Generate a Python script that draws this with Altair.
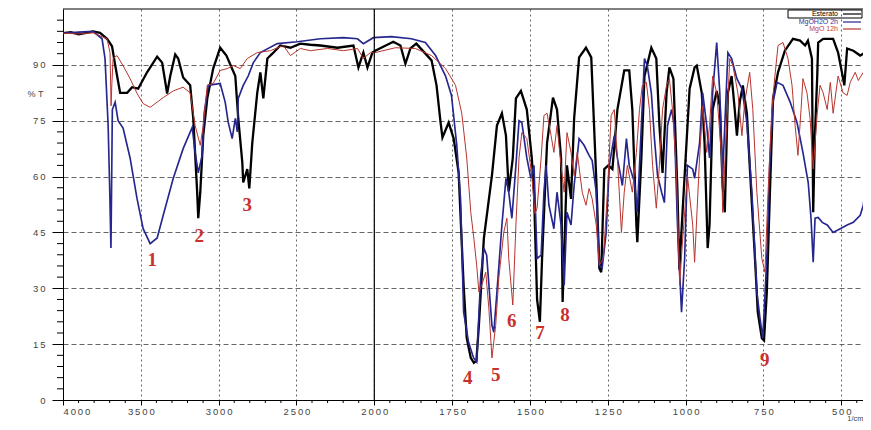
import altair as alt
import pandas as pd

# ---------------- data ----------------
series_names = ["Esterato", "MgOH2O 2h", "MgO 12h"]
series_colors = ["#000000", "#26268f", "#b8342e"]
series_widths = [2.3, 1.0, 1.0]

black_wn = [4000, 3950, 3900, 3850, 3807, 3762, 3717, 3685, 3665, 3633, 3588, 3556, 3517, 3460, 3395,
            3363, 3331, 3311, 3279, 3260, 3228, 3183, 3163, 3138, 3131, 3118, 3099, 3073, 3035, 2990,
            2950, 2893, 2874, 2848, 2842, 2816, 2803, 2784, 2752, 2732, 2713, 2687, 2655, 2604, 2539,
            2475, 2411, 2346, 2237, 2134, 2102, 2070, 2044, 2012, 1997, 1939, 1916, 1900, 1884, 1865,
            1816, 1800, 1787, 1781, 1761, 1745, 1729, 1713, 1703, 1690, 1680, 1672, 1664, 1648, 1622,
            1606, 1590, 1577, 1568, 1555, 1545, 1529, 1510, 1494, 1487, 1477, 1468, 1461, 1445, 1426,
            1413, 1400, 1395, 1387, 1381, 1368, 1358, 1342, 1320, 1303, 1294, 1287, 1277, 1271, 1261,
            1248, 1235, 1219, 1197, 1181, 1171, 1158, 1155, 1142, 1132, 1110, 1094, 1084, 1074, 1061,
            1052, 1039, 1026, 1020, 1010, 987, 971, 964, 948, 939, 929, 923, 913, 900, 890,
            881, 874, 864, 852, 842, 835, 826, 816, 803, 794, 777, 768, 755, 748, 739,
            729, 719, 703, 681, 655, 632, 616, 607, 594, 590, 585, 577, 574, 558, 526,
            510, 497, 490, 481, 461, 439, 423, 406]
black_t = [98.5, 98.8, 98.2, 98.6, 99, 98.6, 97, 95, 90, 82.5, 82.5, 84, 83.6, 88, 92.2,
           90.6, 82.3, 87, 92.8, 91.7, 86.6, 84.5, 75.6, 55.8, 48.8, 55.8, 71, 81, 89, 94.6,
           92.5, 87, 75.6, 63.8, 58.4, 62, 56.8, 69, 82.5, 88, 81, 91.7, 93, 95.2, 94.6,
           95.7, 95.4, 95.2, 94.6, 95.2, 89.3, 93.3, 89.3, 93.3, 93.8, 96.2, 95.2, 90.3, 94.4, 95.7,
           91.2, 84.5, 74.5, 70.5, 74.5, 70.2, 61, 30.8, 16.6, 11.3, 10, 10.5, 20, 43.4, 60.3,
           73.7, 77, 71, 56, 65, 81, 83, 78, 65, 55.8, 27, 21, 38, 69, 81.2,
           78, 65, 26.3, 47, 63, 54, 75.6, 92, 94.6, 92, 73.7, 59.5, 35.4, 34.3, 62,
           63, 62, 78, 88.5, 88.5, 78, 47, 42.4, 65, 87, 94.6, 91.7, 73.7, 61, 82.5,
           89.3, 86.3, 55.8, 35, 50, 83.6, 89.3, 89.8, 82.5, 69, 40.8, 47, 78, 83, 79,
           57.6, 50.4, 82.5, 87, 78, 71, 80, 84.5, 77, 63, 38, 23.6, 16.6, 16, 29,
           55.8, 81, 88, 93.8, 97, 96.5, 95.2, 96.5, 91.7, 50.4, 70, 87, 96, 97, 97,
           93.3, 87.7, 84.5, 94.4, 93.8, 92.5, 93.3, 95.2]

blue_wn = [4000, 3900, 3807, 3749, 3730, 3710, 3700, 3692, 3688, 3683, 3665, 3646, 3614, 3569, 3524,
           3485, 3440, 3395, 3356, 3292, 3228, 3170, 3151, 3131, 3106, 3093, 3067, 2990, 2958, 2938,
           2913, 2893, 2880, 2874, 2842, 2810, 2777, 2732, 2623, 2494, 2346, 2198, 2108, 2070, 2006,
           1945, 1881, 1836, 1803, 1771, 1752, 1735, 1723, 1713, 1697, 1681, 1671, 1658, 1648, 1639,
           1622, 1616, 1606, 1590, 1577, 1568, 1558, 1545, 1535, 1526, 1510, 1497, 1487, 1477, 1464,
           1455, 1448, 1439, 1423, 1413, 1400, 1390, 1381, 1368, 1358, 1342, 1326, 1310, 1300, 1287,
           1277, 1268, 1255, 1245, 1229, 1219, 1203, 1190, 1181, 1164, 1155, 1142, 1132, 1123, 1110,
           1100, 1090, 1077, 1068, 1058, 1045, 1036, 1026, 1013, 1003, 994, 977, 971, 955, 945,
           932, 923, 913, 900, 890, 881, 874, 864, 852, 835, 819, 803, 787, 771, 761,
           752, 739, 729, 719, 706, 687, 664, 642, 623, 606, 597, 590, 584, 574, 561,
           545, 526, 503, 481, 461, 439, 429, 416, 406]
blue_t = [98.5, 98.8, 99, 97, 91.7, 73.7, 56.8, 40.8, 56, 78, 80, 75, 73, 65, 54,
          46, 42, 43.5, 49.6, 59.5, 67.5, 73.2, 66.5, 61, 65.7, 77, 84.5, 85, 80, 74.5,
          70.2, 75.6, 72, 81, 84.5, 87, 90.6, 93.3, 95.7, 96.2, 97, 97.3, 97, 95.7, 97.3,
          97.6, 97, 96, 92.5, 87, 81.8, 68.4, 54, 23.6, 15.5, 11.3, 10.2, 33.5, 40.8, 38.9,
          20, 18.2, 29, 47, 59.5, 55.8, 48.8, 63, 75, 74.5, 65, 59.5, 63, 38, 38.9,
          55.8, 63, 52.3, 46, 55.8, 47, 30.8, 50.4, 47, 57.6, 70.2, 68.4, 65.7, 64.3, 55.8,
          36.2, 35.4, 45, 63, 71, 65, 57.6, 70.2, 63, 58.4, 50.4, 73.7, 91.7, 89.8, 82.5,
          70.2, 60.3, 55.8, 53, 73.7, 78, 73.7, 47, 23.6, 38, 63, 62, 59.5, 69, 82.5,
          73.7, 65, 82.5, 96, 82.5, 60.3, 73.7, 93.3, 91.7, 86.3, 83.6, 74.5, 55.8, 29, 22,
          16.6, 38, 65, 80, 85.3, 84.5, 80, 74.5, 66.5, 58.4, 48.8, 37, 48.8, 49, 47.7,
          47, 45, 46, 47, 47.7, 49.6, 52.3, 62, 66.5]

red_wn = [4000, 3900, 3807, 3717, 3698, 3691, 3686, 3678, 3653, 3614, 3569, 3524, 3485, 3440, 3395,
          3356, 3292, 3228, 3183, 3151, 3118, 3099, 3073, 3035, 2990, 2945, 2906, 2861, 2816, 2752,
          2668, 2584, 2539, 2475, 2411, 2301, 2198, 2108, 2070, 2025, 1997, 1932, 1868, 1816, 1771,
          1739, 1719, 1703, 1690, 1681, 1671, 1664, 1655, 1642, 1632, 1622, 1610, 1600, 1584, 1574,
          1568, 1555, 1545, 1535, 1526, 1510, 1494, 1484, 1477, 1464, 1455, 1445, 1432, 1423, 1413,
          1400, 1390, 1381, 1368, 1358, 1348, 1332, 1320, 1310, 1300, 1287, 1277, 1264, 1251, 1239,
          1229, 1219, 1206, 1197, 1187, 1171, 1158, 1148, 1139, 1126, 1116, 1106, 1094, 1084, 1074,
          1061, 1052, 1042, 1029, 1019, 1010, 994, 977, 971, 955, 945, 932, 923, 913, 900,
          884, 881, 868, 858, 848, 832, 819, 810, 794, 784, 771, 755, 745, 735, 723,
          713, 703, 687, 671, 658, 648, 639, 629, 623, 610, 600, 590, 577, 568, 558,
          545, 535, 526, 510, 494, 481, 471, 455, 445, 429, 406]
red_t = [98.5, 98.3, 98.6, 97, 93.3, 79, 85, 91.7, 92.5, 89.8, 86.3, 82.3, 79.6, 78.6, 80,
         81.2, 83, 84, 82.5, 73.7, 68.4, 73.7, 84.5, 85, 88.5, 89, 89.8, 89, 91.7, 93.3,
         93.8, 95.2, 92.5, 94.4, 93.8, 94.4, 93.8, 94.4, 91.7, 93.3, 93.3, 94.6, 94.4, 92.5, 89,
         84.5, 77, 65, 50.4, 44, 36.2, 29, 30.8, 34.3, 24.7, 11.3, 20, 32.7, 45, 48.8,
         38, 25.5, 47, 65, 71.8, 70.2, 60.3, 50, 51.5, 65, 76.4, 77, 71, 66.5, 73.7,
         63, 55.8, 71.8, 66.5, 60.3, 66.5, 55.8, 52.3, 56.8, 54, 47, 36.2, 38, 55.8, 76.4,
         78, 65, 45, 55.8, 63, 55.8, 66.5, 78, 84.5, 85.3, 78, 63, 51.5, 63, 78,
         84.5, 86.3, 78, 60.3, 30.8, 42.4, 60.3, 47, 37, 65, 79, 66.5, 73.7, 87, 82.5,
         65, 50.4, 73.7, 91.7, 89.8, 82.5, 71, 80, 88, 78, 55.8, 38, 34.3, 55.8, 78,
         87, 95.2, 96, 91.7, 84.5, 73.7, 65.7, 78, 86.3, 82.5, 75.6, 62, 77, 84.5, 82.5,
         78, 85.3, 77, 87, 82.5, 81.8, 85.3, 88, 85.8, 88, 89]

ann_labels = ["1", "2", "3", "4", "5", "6", "7", "8", "9"]
ann_wn = [3427, 3125, 2816, 1700, 1610, 1558, 1468, 1387, 746]
ann_t = [37.5, 44, 52.3, 5.9, 6.7, 21.2, 18, 22.8, 10.7]

major_wn = [4000, 3500, 3000, 2500, 2000, 1750, 1500, 1250, 1000, 750, 500]
y_major = [0, 15, 30, 45, 60, 75, 90]
x_end_wn = 430


# ---------------- build tables ----------------
def to_pos(w):
    return (4000 - w) / 2 if w >= 2000 else 1000 + (2000 - w)


rows = []
for name, wn, tv in zip(series_names, [black_wn, blue_wn, red_wn], [black_t, blue_t, red_t]):
    for i, (w, v) in enumerate(zip(wn, tv)):
        rows.append({"series": name, "wn": w, "T": v, "idx": i})
df = pd.DataFrame(rows)

ann_df = pd.DataFrame({"label": ann_labels, "wn": ann_wn, "T": ann_t})
x_end = to_pos(x_end_wn)
major_pos = [to_pos(w) for w in major_wn]
minor_pos = [p for p in range(0, int(x_end) + 1, 50) if p % 250 != 0]
y_minor = [v for v in range(3, 105, 3) if v % 15 != 0]

POS = "datum.wn >= 2000 ? (4000 - datum.wn) / 2 : 1000 + (2000 - datum.wn)"
SP = "'\u2009'"
XLABEL = ("join(split(toString(datum.value <= 1000 ? 4000 - 2 * datum.value : 3000 - datum.value), ''), "
          + SP + ")")
YLABEL = "join(split(toString(datum.value), ''), " + SP + ")"

W, H = 800, 391
xscale = alt.Scale(domain=[0, x_end], nice=False, zero=False)
yscale = alt.Scale(domain=[0, 105], nice=False, zero=False)

lines = alt.Chart(df).transform_calculate(pos=POS).mark_line(clip=True).encode(
    x=alt.X("pos:Q", scale=xscale,
            axis=alt.Axis(values=major_pos, labelExpr=XLABEL, title="1/cm",
                          grid=True, gridDash=[2, 3], gridColor="#666", gridWidth=1,
                          tickSize=5, tickColor="#000", domainColor="#000",
                          labelFontSize=9.5, labelColor="#444", labelPadding=1,
                          labelFont="Liberation Sans",
                          titleFontSize=7.5, titleColor="#444", titleFontWeight="normal",
                          titleFont="Liberation Sans",
                          titleAnchor="end", titleAlign="right", titleBaseline="alphabetic",
                          titleX=W, titleY=20.5)),
    y=alt.Y("T:Q", scale=yscale,
            axis=alt.Axis(values=y_major, labelExpr=YLABEL, title="% T", grid=True,
                          gridDash=[5, 3], gridColor="#666", gridWidth=1, tickSize=11,
                          tickColor="#000", domainColor="#000", labelFontSize=9.5,
                          labelColor="#444", labelFont="Liberation Sans",
                          labelPadding=7, titleAngle=0, titleFontSize=9,
                          titleFont="Liberation Sans",
                          titleFontWeight="normal", titleColor="#444",
                          titleX=-28, titleY=84, titleAlign="center",
                          titleBaseline="middle")),
    color=alt.Color("series:N", scale=alt.Scale(domain=series_names, range=series_colors),
                    legend=None),
    strokeWidth=alt.StrokeWidth("series:N",
                                scale=alt.Scale(domain=series_names, range=series_widths),
                                legend=None),
    order=alt.Order("idx:Q"),
)

sep = alt.Chart(pd.DataFrame({"wn": [2000]})).transform_calculate(pos=POS).mark_rule(
    color="#000", strokeWidth=1.2).encode(x=alt.X("pos:Q", scale=xscale))

top_border = alt.Chart(pd.DataFrame({"a": [0]})).mark_rule(color="#000", strokeWidth=1).encode(
    x=alt.value(0), x2=alt.value(W), y=alt.value(0))

xminor = alt.Chart(pd.DataFrame({"pos": minor_pos})).mark_rule(
    color="#000", strokeWidth=1).encode(
    x=alt.X("pos:Q", scale=xscale), y=alt.value(H), y2=alt.value(H + 3))

yminor = alt.Chart(pd.DataFrame({"v": y_minor})).mark_rule(
    color="#000", strokeWidth=1).encode(
    y=alt.Y("v:Q", scale=yscale), x=alt.value(0), x2=alt.value(-6))

ann = alt.Chart(ann_df).transform_calculate(pos=POS).mark_text(
    font="Liberation Serif", fontSize=19, fontWeight="bold", color="#c8302c",
    baseline="middle", align="center").encode(
    x=alt.X("pos:Q", scale=xscale), y=alt.Y("T:Q", scale=yscale), text="label:N")

one = pd.DataFrame({"a": [0]})
legend_layers = []
legend_y = [5, 13, 20]
legend_text_colors = ["#000000", "#3030a0", "#c04040"]
for name, col, tcol, ly in zip(series_names, series_colors, legend_text_colors, legend_y):
    legend_layers.append(alt.Chart(one).mark_text(
        fontSize=7, align="right", baseline="middle", color=tcol, font="Liberation Sans").encode(
        x=alt.value(775), y=alt.value(ly), text=alt.value(name)))
    legend_layers.append(alt.Chart(one).mark_rule(color=col, strokeWidth=1.2).encode(
        x=alt.value(780), x2=alt.value(798), y=alt.value(ly), y2=alt.value(ly)))
legend_box = alt.Chart(one).mark_rect(fill="white", fillOpacity=0, stroke="#000",
                                      strokeWidth=1).encode(
    x=alt.value(725), x2=alt.value(799), y=alt.value(1), y2=alt.value(9))

chart = alt.layer(lines, sep, top_border, xminor, yminor, ann, legend_box,
                  *legend_layers).properties(
    width=W, height=H,
    padding={"left": 55, "top": 1, "right": 0, "bottom": 22},
    autosize=alt.AutoSizeParams(type="none"),
    background="white",
).configure_view(stroke=None)

chart.save("out.html", embed_options={"renderer": "svg", "actions": False})
